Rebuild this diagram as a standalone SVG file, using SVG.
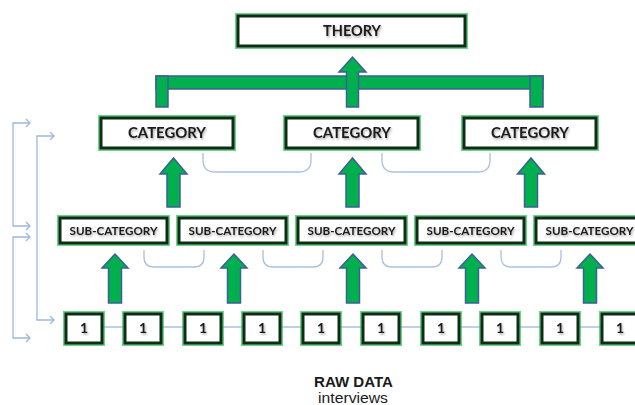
<svg xmlns="http://www.w3.org/2000/svg" width="635" height="405" viewBox="0 0 635 405">
<defs>
<style>
.glow{fill:#fff;stroke:#2fbf5a;stroke-width:6;stroke-opacity:0.7}
.frame{fill:#fff;stroke:#0f2d14;stroke-width:3}
.lbl{font-family:Lato,"Open Sans","Liberation Sans",sans-serif;font-weight:bold;fill:#1a1a1a;text-anchor:middle;filter:url(#sh)}
.arrow{fill:#00b04f;stroke:#3d5f96;stroke-width:1.5;stroke-linejoin:miter}
.con{fill:none;stroke:#a9c1df;stroke-width:1.3}
.fb{fill:none;stroke:#9db8dc;stroke-width:1.3}
</style>
<filter id="sh" x="-10%" y="-30%" width="130%" height="180%">
<feDropShadow dx="1" dy="1.5" stdDeviation="0.8" flood-color="#000" flood-opacity="0.35"/>
</filter>
<marker id="chev" markerWidth="10" markerHeight="10" refX="6" refY="5" orient="auto" markerUnits="userSpaceOnUse">
<path d="M2,1 L6,5 L2,9" fill="none" stroke="#9db8dc" stroke-width="1.3"/>
</marker>
<marker id="chevs" markerWidth="10" markerHeight="10" refX="6" refY="5" orient="auto-start-reverse" markerUnits="userSpaceOnUse">
<path d="M2,1 L6,5 L2,9" fill="none" stroke="#9db8dc" stroke-width="1.3"/>
</marker>
</defs>
<rect width="635" height="405" fill="#fff"/>

<g id="connectors">
<path class="fb" d="M30,123 H13 V226 H30" marker-start="url(#chevs)" marker-end="url(#chev)"/>
<path class="fb" d="M54,136 H37 V320 H54" marker-start="url(#chevs)" marker-end="url(#chev)"/>
<path class="fb" d="M30,237 H13 V338 H30" marker-start="url(#chevs)" marker-end="url(#chev)"/>
<line class="con" x1="90" y1="327" x2="635" y2="327"/>
<path class="con" d="M203,153 V160 Q203,172 215,172 H299 Q311,172 311,160 V153"/>
<path class="con" d="M382,153 V160 Q382,172 394,172 H478 Q490,172 490,160 V153"/>
<path class="con" d="M144,250 V257 Q144,267 154,267 H194 Q204,267 204,257 V250"/>
<path class="con" d="M263,250 V257 Q263,267 273,267 H313 Q323,267 323,257 V250"/>
<path class="con" d="M382,250 V257 Q382,267 392,267 H432 Q442,267 442,257 V250"/>
<path class="con" d="M501,250 V257 Q501,267 511,267 H551 Q561,267 561,257 V250"/>
<rect class="arrow" x="156" y="76" width="387" height="13"/>
<rect class="arrow" x="156" y="76" width="12" height="31"/>
<rect class="arrow" x="530" y="76" width="13" height="31"/>
<path class="arrow" d="M346.5,107 V72 H339 L352.5,57 L366,72 H358.5 V107 Z"/>
<path class="arrow" d="M167,207 V174 H160 L173.5,158 L187,174 H180 V207 Z"/>
<path class="arrow" d="M346,207 V174 H339 L352.5,158 L366,174 H359 V207 Z"/>
<path class="arrow" d="M524.5,207 V174 H517.5 L531,158 L544.5,174 H537.5 V207 Z"/>
<path class="arrow" d="M108.5,303 V268 H102 L115,254 L128,268 H121.5 V303 Z"/>
<path class="arrow" d="M227.5,303 V268 H221 L234,254 L247,268 H240.5 V303 Z"/>
<path class="arrow" d="M346.5,303 V268 H340 L353,254 L366,268 H359.5 V303 Z"/>
<path class="arrow" d="M465.5,303 V268 H459 L472,254 L485,268 H478.5 V303 Z"/>
<path class="arrow" d="M583.5,303 V268 H577 L590,254 L603,268 H596.5 V303 Z"/>
</g>

<g id="theory">
<rect class="glow" x="238" y="16" width="227" height="30"/>
<rect class="frame" x="238" y="16" width="227" height="30"/>
<text class="lbl" x="352" y="36" font-size="15" textLength="58" lengthAdjust="spacingAndGlyphs">THEORY</text>
</g>

<g id="category-1">
<rect class="glow" x="101" y="118" width="132" height="30"/>
<rect class="frame" x="101" y="118" width="132" height="30"/>
<text class="lbl" x="167" y="138" font-size="15" textLength="78" lengthAdjust="spacingAndGlyphs">CATEGORY</text>
</g>
<g id="category-2">
<rect class="glow" x="286" y="118" width="132" height="30"/>
<rect class="frame" x="286" y="118" width="132" height="30"/>
<text class="lbl" x="352" y="138" font-size="15" textLength="78" lengthAdjust="spacingAndGlyphs">CATEGORY</text>
</g>
<g id="category-3">
<rect class="glow" x="464" y="118" width="132" height="30"/>
<rect class="frame" x="464" y="118" width="132" height="30"/>
<text class="lbl" x="530" y="138" font-size="15" textLength="78" lengthAdjust="spacingAndGlyphs">CATEGORY</text>
</g>

<g id="sub-1">
<rect class="glow" x="60" y="218" width="107" height="25"/>
<rect class="frame" x="60" y="218" width="107" height="25"/>
<text class="lbl" x="113.5" y="235" font-size="12" textLength="88" lengthAdjust="spacingAndGlyphs">SUB-CATEGORY</text>
</g>
<g id="sub-2">
<rect class="glow" x="179" y="218" width="107" height="25"/>
<rect class="frame" x="179" y="218" width="107" height="25"/>
<text class="lbl" x="232.5" y="235" font-size="12" textLength="88" lengthAdjust="spacingAndGlyphs">SUB-CATEGORY</text>
</g>
<g id="sub-3">
<rect class="glow" x="298" y="218" width="107" height="25"/>
<rect class="frame" x="298" y="218" width="107" height="25"/>
<text class="lbl" x="351.5" y="235" font-size="12" textLength="88" lengthAdjust="spacingAndGlyphs">SUB-CATEGORY</text>
</g>
<g id="sub-4">
<rect class="glow" x="417" y="218" width="107" height="25"/>
<rect class="frame" x="417" y="218" width="107" height="25"/>
<text class="lbl" x="470.5" y="235" font-size="12" textLength="88" lengthAdjust="spacingAndGlyphs">SUB-CATEGORY</text>
</g>
<g id="sub-5">
<rect class="glow" x="536" y="218" width="107" height="25"/>
<rect class="frame" x="536" y="218" width="107" height="25"/>
<text class="lbl" x="589.5" y="235" font-size="12" textLength="88" lengthAdjust="spacingAndGlyphs">SUB-CATEGORY</text>
</g>

<g id="raw-1"><rect class="glow" x="66" y="314" width="36" height="29"/><rect class="frame" x="66" y="314" width="36" height="29"/><text class="lbl" x="84" y="333" font-size="14">1</text></g>
<g id="raw-2"><rect class="glow" x="125" y="314" width="36" height="29"/><rect class="frame" x="125" y="314" width="36" height="29"/><text class="lbl" x="143" y="333" font-size="14">1</text></g>
<g id="raw-3"><rect class="glow" x="185" y="314" width="36" height="29"/><rect class="frame" x="185" y="314" width="36" height="29"/><text class="lbl" x="203" y="333" font-size="14">1</text></g>
<g id="raw-4"><rect class="glow" x="244" y="314" width="36" height="29"/><rect class="frame" x="244" y="314" width="36" height="29"/><text class="lbl" x="262" y="333" font-size="14">1</text></g>
<g id="raw-5"><rect class="glow" x="303" y="314" width="36" height="29"/><rect class="frame" x="303" y="314" width="36" height="29"/><text class="lbl" x="321" y="333" font-size="14">1</text></g>
<g id="raw-6"><rect class="glow" x="363" y="314" width="36" height="29"/><rect class="frame" x="363" y="314" width="36" height="29"/><text class="lbl" x="381" y="333" font-size="14">1</text></g>
<g id="raw-7"><rect class="glow" x="423" y="314" width="36" height="29"/><rect class="frame" x="423" y="314" width="36" height="29"/><text class="lbl" x="441" y="333" font-size="14">1</text></g>
<g id="raw-8"><rect class="glow" x="482" y="314" width="36" height="29"/><rect class="frame" x="482" y="314" width="36" height="29"/><text class="lbl" x="500" y="333" font-size="14">1</text></g>
<g id="raw-9"><rect class="glow" x="542" y="314" width="36" height="29"/><rect class="frame" x="542" y="314" width="36" height="29"/><text class="lbl" x="560" y="333" font-size="14">1</text></g>
<g id="raw-10"><rect class="glow" x="602" y="314" width="36" height="29"/><rect class="frame" x="602" y="314" width="36" height="29"/><text class="lbl" x="620" y="333" font-size="14">1</text></g>

<g id="caption">
<text x="353.5" y="387" font-family="'Liberation Sans',Arial,sans-serif" font-weight="bold" font-size="15" text-anchor="middle" fill="#1a1a1a" textLength="79" lengthAdjust="spacingAndGlyphs">RAW DATA</text>
<text x="353" y="403" font-family="'Liberation Sans',Arial,sans-serif" font-size="14" text-anchor="middle" fill="#1a1a1a" textLength="70" lengthAdjust="spacingAndGlyphs">interviews</text>
</g>
</svg>
